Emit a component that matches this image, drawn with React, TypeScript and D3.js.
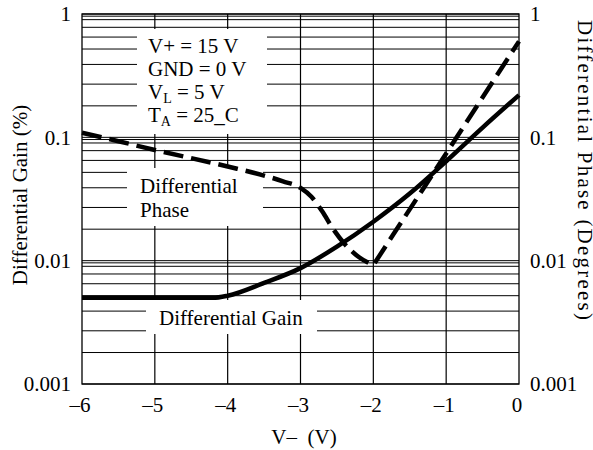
import React from 'react';
import * as d3 from 'd3';

// ---- data ----
const xTicks = [-6, -5, -4, -3, -2, -1, 0];
const xTickLabels = ['–6', '–5', '–4', '–3', '–2', '–1', '0'];
const yDecades = [0.001, 0.01, 0.1, 1];
const yTickLabels = ['0.001', '0.01', '0.1', '1'];
const gridMultipliers = [1.8, 2.7, 3.9, 5.2, 6.5, 7.8, 9.0, 9.6];

const gainV = [-6, -5, -4.2, -4, -3.5, -3, -2.5, -2, -1.5, -1, -0.5, 0];
const gainVal = [0.005, 0.005, 0.005, 0.0052, 0.0066, 0.0087, 0.013, 0.0207, 0.035, 0.064, 0.12, 0.22];

const phaseFallV = [-6, -5.5, -5, -4, -3.5, -3.24, -3, -2.85, -2.7, -2.55, -2.4, -2.2, -2];
const phaseFallVal = [0.109, 0.093, 0.079, 0.058, 0.049, 0.044, 0.039, 0.033, 0.025, 0.018, 0.0138, 0.0107, 0.0092];
const phaseRiseV = [-2, -1, 0];
const phaseRiseVal = [0.0092, 0.074, 0.6];

const FONT = "Liberation Serif, Times New Roman, serif";

export default function App() {
  const W = 593, H = 450;
  const left = 82, right = 519, top = 14, bottom = 384;
  const x = d3.scaleLinear().domain([-6, 0]).range([left, right]);
  const y = d3.scaleLog().domain([0.001, 1]).range([bottom, top]);

  const gridVals: number[] = [];
  yDecades.forEach((d, i) => {
    gridVals.push(d);
    if (i < yDecades.length - 1) gridMultipliers.forEach(m => gridVals.push(d * m));
  });

  const gainPts = gainV.map((v, i) => [v, gainVal[i]] as [number, number]);
  const gainPath = d3.line<[number, number]>().x(d => x(d[0])).y(d => y(d[1])).curve(d3.curveMonotoneX)(gainPts) || '';

  const fallPts = phaseFallV.map((v, i) => [v, phaseFallVal[i]] as [number, number]);
  const risePts = phaseRiseV.map((v, i) => [v, phaseRiseVal[i]] as [number, number]);
  const fallPath = d3.line<[number, number]>().x(d => x(d[0])).y(d => y(d[1])).curve(d3.curveMonotoneX)(fallPts) || '';
  const risePath = d3.line<[number, number]>().x(d => x(d[0])).y(d => y(d[1]))(risePts) || '';
  const phasePath = fallPath + risePath.replace(/^M/, 'L');

  const fs = 21;
  const ts: React.CSSProperties = { fontFamily: FONT, fontSize: fs };

  return (
    <svg width={W} height={H} style={{ position: 'absolute', left: 0, top: 0, background: '#fff', fontFamily: FONT }}>
      <rect x={0} y={0} width={W} height={H} fill="#fff" />
      {gridVals.map((v, i) => (
        <line key={'h' + i} x1={left} x2={right} y1={y(v)} y2={y(v)} stroke="#000" strokeWidth={1} />
      ))}
      {xTicks.slice(1, -1).map(v => (
        <line key={'v' + v} x1={x(v)} x2={x(v)} y1={top} y2={bottom} stroke="#000" strokeWidth={1.2} />
      ))}
      <rect x={137} y={29} width={130} height={105} fill="#fff" />
      <rect x={127} y={168} width={136} height={58} fill="#fff" />
      <rect x={146} y={300} width={171} height={34} fill="#fff" />
      <rect x={left} y={top} width={right - left} height={bottom - top} fill="none" stroke="#000" strokeWidth={1.3} />

      <path d={gainPath} fill="none" stroke="#000" strokeWidth={4.5} strokeLinejoin="round" />
      <path d={phasePath} fill="none" stroke="#000" strokeWidth={4.5} strokeDasharray="20,8" strokeLinejoin="round" />

      <g fill="#000">
        <text style={ts} x={148} y={53}>V+ = 15 V</text>
        <text style={ts} x={148} y={76}>GND = 0 V</text>
        <text style={ts} x={148} y={99}>V<tspan fontSize={14} dy={4}>L</tspan><tspan dy={-4}> = 5 V</tspan></text>
        <text style={ts} x={148} y={122}>T<tspan fontSize={14} dy={4}>A</tspan><tspan dy={-4}> = 25_C</tspan></text>
        <text style={ts} x={140} y={193}>Differential</text>
        <text style={ts} x={140} y={217}>Phase</text>
        <text style={ts} x={159} y={325}>Differential Gain</text>
      </g>

      <g fill="#000">
        {yDecades.map((v, i) => (
          <text style={ts} key={'yl' + i} x={71} y={y(v)} dy="0.35em" textAnchor="end">{yTickLabels[i]}</text>
        ))}
        {yDecades.map((v, i) => (
          <text style={ts} key={'yr' + i} x={530} y={y(v)} dy="0.35em" textAnchor="start">{yTickLabels[i]}</text>
        ))}
        {xTicks.map((v, i) => (
          <text style={ts} key={'xl' + i} x={x(v) - 2} y={412} textAnchor="middle">{xTickLabels[i]}</text>
        ))}
        <text style={{ ...ts, whiteSpace: 'pre' }} x={304} y={444} textAnchor="middle">{'V–  (V)'}</text>
        <text style={ts} transform="translate(27,195) rotate(-90)" textAnchor="middle">Differential Gain (%)</text>
        <text style={ts} transform="translate(578,170) rotate(90)" textAnchor="middle" textLength={300} lengthAdjust="spacing">Differential Phase (Degrees)</text>
      </g>
    </svg>
  );
}
